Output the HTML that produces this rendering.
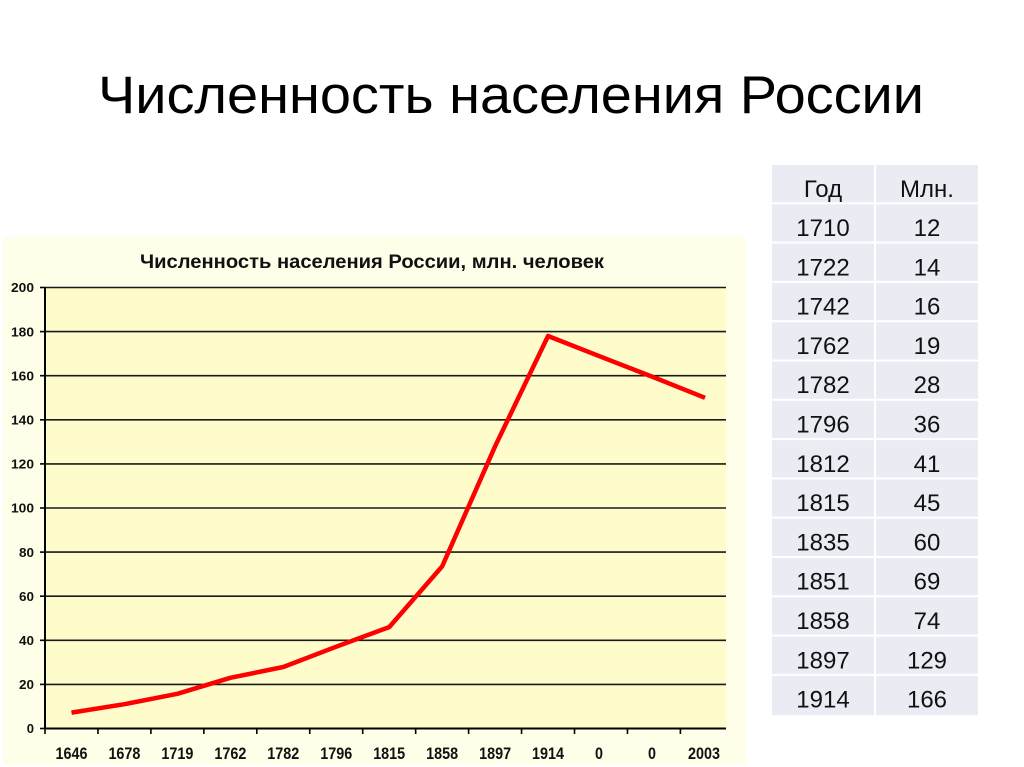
<!DOCTYPE html>
<html>
<head>
<meta charset="utf-8">
<style>
  html, body { margin:0; padding:0; background:#ffffff; }
  svg { display:block; }
</style>
</head>
<body>
<svg width="1024" height="767" viewBox="0 0 1024 767" xmlns="http://www.w3.org/2000/svg">
  <rect x="0" y="0" width="1024" height="767" fill="#ffffff"/>

  <!-- Main title -->
  <text x="98" y="113" font-family="'Liberation Sans', 'Noto Sans CJK SC', sans-serif" font-size="53" fill="#000" textLength="826" lengthAdjust="spacingAndGlyphs">Численность населения России</text>

  <!-- Chart outer area -->
  <rect x="3" y="237" width="743" height="528" fill="#fffee9"/>
  <!-- Plot area -->
  <rect x="45" y="287.5" width="681" height="441" fill="#fffccc"/>

  <!-- Chart title -->
  <text x="140" y="268" font-family="'Liberation Sans', 'Noto Sans CJK SC', sans-serif" font-size="19" font-weight="bold" fill="#111" textLength="464" lengthAdjust="spacingAndGlyphs">Численность населения России, млн. человек</text>

  <!-- Gridlines -->
  <g stroke="#1a1a1a" stroke-width="1.6">
    <line x1="45" y1="287.5" x2="726" y2="287.5"/>
    <line x1="45" y1="331.6" x2="726" y2="331.6"/>
    <line x1="45" y1="375.7" x2="726" y2="375.7"/>
    <line x1="45" y1="419.8" x2="726" y2="419.8"/>
    <line x1="45" y1="463.9" x2="726" y2="463.9"/>
    <line x1="45" y1="508.0" x2="726" y2="508.0"/>
    <line x1="45" y1="552.1" x2="726" y2="552.1"/>
    <line x1="45" y1="596.2" x2="726" y2="596.2"/>
    <line x1="45" y1="640.3" x2="726" y2="640.3"/>
    <line x1="45" y1="684.4" x2="726" y2="684.4"/>
  </g>

  <!-- Y axis ticks -->
  <g stroke="#000" stroke-width="1.6">
    <line x1="40" y1="287.5" x2="45" y2="287.5"/>
    <line x1="40" y1="331.6" x2="45" y2="331.6"/>
    <line x1="40" y1="375.7" x2="45" y2="375.7"/>
    <line x1="40" y1="419.8" x2="45" y2="419.8"/>
    <line x1="40" y1="463.9" x2="45" y2="463.9"/>
    <line x1="40" y1="508.0" x2="45" y2="508.0"/>
    <line x1="40" y1="552.1" x2="45" y2="552.1"/>
    <line x1="40" y1="596.2" x2="45" y2="596.2"/>
    <line x1="40" y1="640.3" x2="45" y2="640.3"/>
    <line x1="40" y1="684.4" x2="45" y2="684.4"/>
    <line x1="40" y1="728.5" x2="45" y2="728.5"/>
  </g>

  <!-- Axes -->
  <line x1="45" y1="287" x2="45" y2="729.5" stroke="#000" stroke-width="2"/>
  <line x1="44" y1="728.5" x2="726" y2="728.5" stroke="#000" stroke-width="2"/>

  <!-- X axis ticks -->
  <g stroke="#000" stroke-width="1.6">
    <line x1="45" y1="728.5" x2="45" y2="734"/>
    <line x1="97.95" y1="728.5" x2="97.95" y2="734"/>
    <line x1="150.9" y1="728.5" x2="150.9" y2="734"/>
    <line x1="203.85" y1="728.5" x2="203.85" y2="734"/>
    <line x1="256.8" y1="728.5" x2="256.8" y2="734"/>
    <line x1="309.75" y1="728.5" x2="309.75" y2="734"/>
    <line x1="362.7" y1="728.5" x2="362.7" y2="734"/>
    <line x1="415.65" y1="728.5" x2="415.65" y2="734"/>
    <line x1="468.6" y1="728.5" x2="468.6" y2="734"/>
    <line x1="521.55" y1="728.5" x2="521.55" y2="734"/>
    <line x1="574.5" y1="728.5" x2="574.5" y2="734"/>
    <line x1="627.45" y1="728.5" x2="627.45" y2="734"/>
    <line x1="680.4" y1="728.5" x2="680.4" y2="734"/>
  </g>

  <!-- Y labels -->
  <g font-family="'Liberation Sans', sans-serif" font-size="13" font-weight="bold" fill="#111" text-anchor="end">
    <text x="34" y="292.2" textLength="23" lengthAdjust="spacingAndGlyphs">200</text>
    <text x="34" y="336.3" textLength="23" lengthAdjust="spacingAndGlyphs">180</text>
    <text x="34" y="380.4" textLength="23" lengthAdjust="spacingAndGlyphs">160</text>
    <text x="34" y="424.5" textLength="23" lengthAdjust="spacingAndGlyphs">140</text>
    <text x="34" y="468.6" textLength="23" lengthAdjust="spacingAndGlyphs">120</text>
    <text x="34" y="512.7" textLength="23" lengthAdjust="spacingAndGlyphs">100</text>
    <text x="34" y="556.8" textLength="15" lengthAdjust="spacingAndGlyphs">80</text>
    <text x="34" y="600.9" textLength="15" lengthAdjust="spacingAndGlyphs">60</text>
    <text x="34" y="645.0" textLength="15" lengthAdjust="spacingAndGlyphs">40</text>
    <text x="34" y="689.1" textLength="15" lengthAdjust="spacingAndGlyphs">20</text>
    <text x="34" y="733.2">0</text>
  </g>

  <!-- X labels -->
  <g font-family="'Liberation Sans', sans-serif" font-size="17" font-weight="bold" fill="#111" text-anchor="middle">
    <text x="71.5" y="759" textLength="32" lengthAdjust="spacingAndGlyphs">1646</text>
    <text x="124.45" y="759" textLength="32" lengthAdjust="spacingAndGlyphs">1678</text>
    <text x="177.4" y="759" textLength="32" lengthAdjust="spacingAndGlyphs">1719</text>
    <text x="230.35" y="759" textLength="32" lengthAdjust="spacingAndGlyphs">1762</text>
    <text x="283.3" y="759" textLength="32" lengthAdjust="spacingAndGlyphs">1782</text>
    <text x="336.25" y="759" textLength="32" lengthAdjust="spacingAndGlyphs">1796</text>
    <text x="389.2" y="759" textLength="32" lengthAdjust="spacingAndGlyphs">1815</text>
    <text x="442.15" y="759" textLength="32" lengthAdjust="spacingAndGlyphs">1858</text>
    <text x="495.1" y="759" textLength="32" lengthAdjust="spacingAndGlyphs">1897</text>
    <text x="548.05" y="759" textLength="32" lengthAdjust="spacingAndGlyphs">1914</text>
    <text x="599" y="759" textLength="8" lengthAdjust="spacingAndGlyphs">0</text>
    <text x="652" y="759" textLength="8" lengthAdjust="spacingAndGlyphs">0</text>
    <text x="704" y="759" textLength="32" lengthAdjust="spacingAndGlyphs">2003</text>
  </g>

  <!-- Data line -->
  <polyline fill="none" stroke="#ff0000" stroke-width="4.5" stroke-linejoin="round" stroke-linecap="butt"
    points="71.5,712.6 124.45,704.2 177.4,693.8 230.35,677.8 283.3,667.0 336.25,646.7 389.2,627.1 442.15,566.4 495.1,446.3 548.05,336.0 601,356.8 653.95,377.4 705,397.8"/>

  <!-- Table -->
  <g fill="#e9ecf3">
    <rect x="772" y="165" width="102" height="37.3"/><rect x="876" y="165" width="102" height="37.3"/>
    <rect x="772" y="204.3" width="102" height="37.3"/><rect x="876" y="204.3" width="102" height="37.3"/>
    <rect x="772" y="243.6" width="102" height="37.3"/><rect x="876" y="243.6" width="102" height="37.3"/>
    <rect x="772" y="282.9" width="102" height="37.3"/><rect x="876" y="282.9" width="102" height="37.3"/>
    <rect x="772" y="322.2" width="102" height="37.3"/><rect x="876" y="322.2" width="102" height="37.3"/>
    <rect x="772" y="361.5" width="102" height="37.3"/><rect x="876" y="361.5" width="102" height="37.3"/>
    <rect x="772" y="400.8" width="102" height="37.3"/><rect x="876" y="400.8" width="102" height="37.3"/>
    <rect x="772" y="440.1" width="102" height="37.3"/><rect x="876" y="440.1" width="102" height="37.3"/>
    <rect x="772" y="479.4" width="102" height="37.3"/><rect x="876" y="479.4" width="102" height="37.3"/>
    <rect x="772" y="518.7" width="102" height="37.3"/><rect x="876" y="518.7" width="102" height="37.3"/>
    <rect x="772" y="558.0" width="102" height="37.3"/><rect x="876" y="558.0" width="102" height="37.3"/>
    <rect x="772" y="597.3" width="102" height="37.3"/><rect x="876" y="597.3" width="102" height="37.3"/>
    <rect x="772" y="636.6" width="102" height="37.3"/><rect x="876" y="636.6" width="102" height="37.3"/>
    <rect x="772" y="675.9" width="102" height="39.3"/><rect x="876" y="675.9" width="102" height="39.3"/>
  </g>
  <g font-family="'Liberation Sans', 'Noto Sans CJK SC', sans-serif" font-size="24" fill="#111" text-anchor="middle">
    <text x="823" y="197">Год</text><text x="927" y="197">Млн.</text>
    <text x="823" y="236">1710</text><text x="927" y="236">12</text>
    <text x="823" y="275.3">1722</text><text x="927" y="275.3">14</text>
    <text x="823" y="314.6">1742</text><text x="927" y="314.6">16</text>
    <text x="823" y="353.9">1762</text><text x="927" y="353.9">19</text>
    <text x="823" y="393.2">1782</text><text x="927" y="393.2">28</text>
    <text x="823" y="432.5">1796</text><text x="927" y="432.5">36</text>
    <text x="823" y="471.8">1812</text><text x="927" y="471.8">41</text>
    <text x="823" y="511.1">1815</text><text x="927" y="511.1">45</text>
    <text x="823" y="550.4">1835</text><text x="927" y="550.4">60</text>
    <text x="823" y="589.7">1851</text><text x="927" y="589.7">69</text>
    <text x="823" y="629.0">1858</text><text x="927" y="629.0">74</text>
    <text x="823" y="668.3">1897</text><text x="927" y="668.3">129</text>
    <text x="823" y="707.6">1914</text><text x="927" y="707.6">166</text>
  </g>
</svg>
</body>
</html>
